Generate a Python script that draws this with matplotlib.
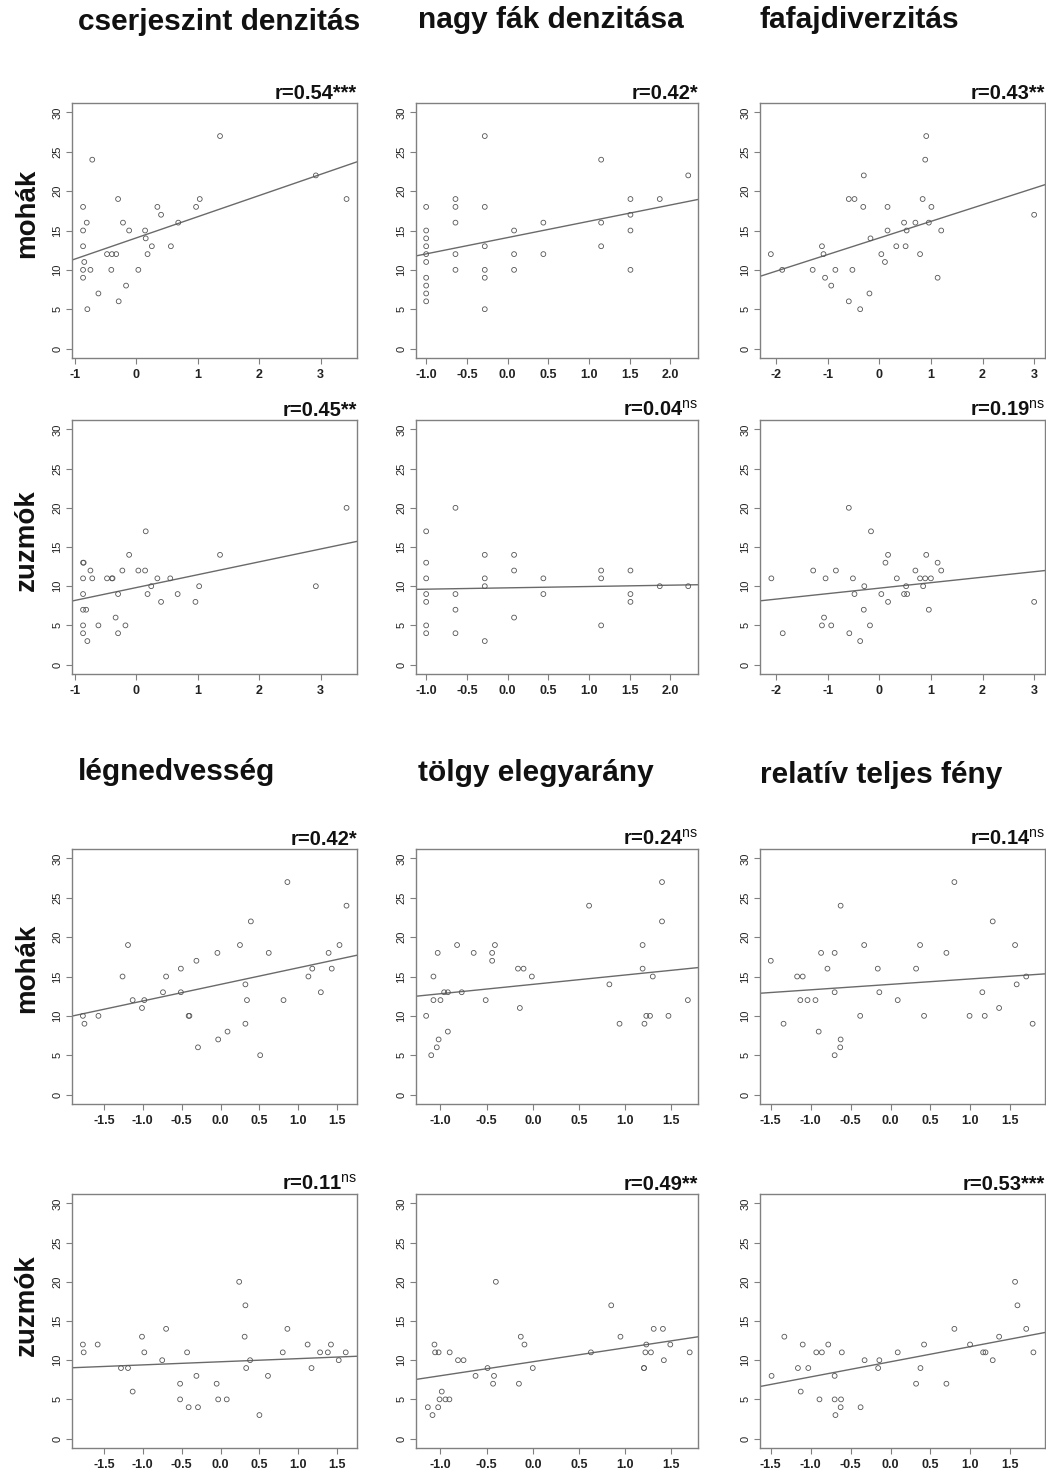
import numpy as np
import matplotlib
matplotlib.use("Agg")
import matplotlib.pyplot as plt

plt.rcParams['font.family'] = ['Liberation Sans', 'DejaVu Sans']
plt.rcParams['mathtext.fontset'] = 'custom'
plt.rcParams['mathtext.rm'] = 'Liberation Sans'

# ---------------- data ----------------
col_titles = ["cserjeszint denzitás", "nagy fák denzitása", "fafajdiverzitás",
              "légnedvesség", "tölgy elegyarány", "relatív teljes fény"]
row_labels = ["mohák", "zuzmók", "mohák", "zuzmók"]

cserje_moha_x = [-0.87, -0.87, -0.87, -0.85, -0.87, -0.87, -0.72, -0.81, -0.75, -0.80, -0.62, -0.48,
                 -0.40, -0.33, -0.41, -0.30, -0.29, -0.22, -0.17, -0.12, 0.03, 0.14, 0.15, 0.18,
                 0.25, 0.34, 0.40, 0.56, 0.68, 0.97, 1.03, 1.36, 2.92, 3.42]
cserje_moha_y = [18, 15, 13, 11, 10, 9, 24, 16, 10, 5, 7, 12, 12, 12, 10, 19, 6, 16, 8, 15, 10, 15,
                 14, 12, 13, 18, 17, 13, 16, 18, 19, 27, 22, 19]

cserje_zuzmo_x = [-0.86, -0.87, -0.87, -0.87, -0.87, -0.82, -0.87, -0.87, -0.80, -0.75, -0.72, -0.62,
                  -0.48, -0.40, -0.39, -0.34, -0.30, -0.30, -0.23, -0.18, -0.12, 0.03, 0.14, 0.15,
                  0.18, 0.24, 0.34, 0.40, 0.55, 0.67, 0.96, 1.02, 1.36, 2.92, 3.42]
cserje_zuzmo_y = [13, 13, 11, 9, 7, 7, 5, 4, 3, 12, 11, 5, 11, 11, 11, 6, 9, 4, 12, 5, 14, 12, 12, 17,
                  9, 10, 11, 8, 11, 9, 8, 10, 14, 10, 20]

nagyfa_moha_x = [-1.0, -1.0, -1.0, -1.0, -1.0, -1.0, -1.0, -1.0, -1.0, -1.0,
                 -0.64, -0.64, -0.64, -0.64, -0.64,
                 -0.28, -0.28, -0.28, -0.28, -0.28, -0.28,
                 0.08, 0.08, 0.08, 0.44, 0.44, 1.15, 1.15, 1.15,
                 1.51, 1.51, 1.51, 1.51, 1.87, 2.22]
nagyfa_moha_y = [18, 15, 14, 13, 12, 11, 9, 8, 7, 6,
                 19, 18, 16, 12, 10,
                 27, 18, 13, 10, 9, 5,
                 15, 12, 10, 16, 12, 24, 16, 13,
                 19, 17, 15, 10, 19, 22]

nagyfa_zuzmo_x = [-1.0, -1.0, -1.0, -1.0, -1.0, -1.0, -1.0,
                  -0.64, -0.64, -0.64, -0.64,
                  -0.28, -0.28, -0.28, -0.28,
                  0.08, 0.08, 0.08, 0.44, 0.44,
                  1.15, 1.15, 1.15, 1.51, 1.51, 1.51, 1.87, 2.22]
nagyfa_zuzmo_y = [17, 13, 11, 9, 8, 5, 4,
                  20, 9, 7, 4,
                  14, 11, 10, 3,
                  14, 12, 6, 11, 9,
                  12, 11, 5, 12, 9, 8, 10, 10]

fafaj_moha_x = [-2.10, -1.88, -1.29, -1.11, -1.08, -1.05, -0.93, -0.85, -0.59, -0.59, -0.52, -0.48,
                -0.37, -0.30, -0.31, -0.19, -0.17, 0.04, 0.11, 0.16, 0.16, 0.33, 0.48, 0.51, 0.53,
                0.70, 0.79, 0.84, 0.89, 0.91, 0.96, 1.01, 1.13, 1.20, 3.00]
fafaj_moha_y = [12, 10, 10, 13, 12, 9, 8, 10, 19, 6, 10, 19, 5, 22, 18, 7, 14, 12, 11, 18, 15, 13,
                16, 13, 15, 16, 12, 19, 24, 27, 16, 18, 9, 15, 17]

fafaj_zuzmo_x = [-2.09, -1.87, -1.28, -1.11, -1.07, -1.04, -0.93, -0.84, -0.59, -0.58, -0.51, -0.48,
                 -0.37, -0.30, -0.29, -0.18, -0.16, 0.04, 0.12, 0.17, 0.17, 0.34, 0.48, 0.52, 0.54,
                 0.70, 0.79, 0.85, 0.89, 0.91, 0.96, 1.00, 1.13, 1.20, 3.00]
fafaj_zuzmo_y = [11, 4, 12, 5, 6, 11, 5, 12, 20, 4, 11, 9, 3, 7, 10, 5, 17, 9, 13, 14, 8, 11, 9, 10,
                 9, 12, 11, 10, 11, 14, 7, 11, 13, 12, 8]

legned_moha_x = [-1.77, -1.75, -1.57, -1.26, -1.19, -1.13, -1.01, -0.98, -0.74, -0.70, -0.51, -0.51,
                 -0.41, -0.40, -0.31, -0.29, -0.04, -0.03, 0.09, 0.25, 0.32, 0.32, 0.34, 0.39, 0.51,
                 0.62, 0.81, 0.86, 1.13, 1.18, 1.29, 1.39, 1.43, 1.53, 1.62]
legned_moha_y = [10, 9, 10, 15, 19, 12, 11, 12, 13, 15, 16, 13, 10, 10, 17, 6, 18, 7, 8, 19, 14, 9,
                 12, 22, 5, 18, 12, 27, 15, 16, 13, 18, 16, 19, 24]

legned_zuzmo_x = [-1.77, -1.76, -1.58, -1.28, -1.19, -1.13, -1.01, -0.98, -0.75, -0.70, -0.52, -0.52,
                  -0.43, -0.41, -0.31, -0.29, -0.05, -0.03, 0.08, 0.24, 0.32, 0.31, 0.33, 0.38, 0.50,
                  0.61, 0.80, 0.86, 1.12, 1.17, 1.28, 1.38, 1.42, 1.52, 1.61]
legned_zuzmo_y = [12, 11, 12, 9, 9, 6, 13, 11, 10, 14, 7, 5, 11, 4, 8, 4, 7, 5, 5, 20, 17, 13, 9, 10,
                  3, 8, 11, 14, 12, 9, 11, 11, 12, 10, 11]

tolgy_moha_x = [-1.155, -1.10, -1.076, -1.076, -1.04, -1.03, -1.02, -1.00, -0.96, -0.92, -0.92, -0.82,
                -0.77, -0.64, -0.51, -0.44, -0.44, -0.41, -0.16, -0.14, -0.10, -0.01, 0.61, 0.83,
                0.94, 1.19, 1.19, 1.21, 1.23, 1.27, 1.30, 1.40, 1.40, 1.47, 1.68]
tolgy_moha_y = [10, 5, 15, 12, 6, 18, 7, 12, 13, 13, 8, 19, 13, 18, 12, 18, 17, 19, 16, 11, 16, 15,
                24, 14, 9, 19, 16, 9, 10, 10, 15, 27, 22, 10, 12]

tolgy_zuzmo_x = [-1.137, -1.086, -1.065, -1.058, -1.02, -1.025, -1.01, -0.986, -0.946, -0.903, -0.90,
                 -0.81, -0.75, -0.62, -0.49, -0.43, -0.42, -0.40, -0.15, -0.13, -0.09, 0.00, 0.63,
                 0.85, 0.95, 1.205, 1.205, 1.22, 1.23, 1.28, 1.31, 1.41, 1.42, 1.49, 1.70]
tolgy_zuzmo_y = [4, 3, 12, 11, 11, 4, 5, 6, 5, 5, 11, 10, 10, 8, 9, 7, 8, 20, 7, 13, 12, 9, 11, 17,
                 13, 9, 9, 11, 12, 11, 14, 14, 10, 12, 11]

feny_moha_x = [-1.50, -1.34, -1.17, -1.10, -1.13, -1.04, -0.94, -0.90, -0.87, -0.79, -0.70, -0.70,
               -0.70, -0.625, -0.625, -0.63, -0.38, -0.33, -0.16, -0.14, 0.09, 0.32, 0.37, 0.42,
               0.70, 0.80, 0.99, 1.15, 1.18, 1.28, 1.36, 1.56, 1.58, 1.70, 1.78]
feny_moha_y = [17, 9, 15, 15, 12, 12, 12, 8, 18, 16, 18, 13, 5, 24, 7, 6, 10, 19, 16, 13, 12, 16, 19,
               10, 18, 27, 10, 13, 10, 22, 11, 19, 14, 15, 9]

feny_zuzmo_x = [-1.49, -1.33, -1.16, -1.125, -1.10, -1.03, -0.93, -0.89, -0.86, -0.78, -0.70, -0.70,
                -0.69, -0.625, -0.62, -0.61, -0.375, -0.325, -0.155, -0.14, 0.09, 0.32, 0.375, 0.42,
                0.70, 0.80, 0.996, 1.16, 1.19, 1.28, 1.36, 1.56, 1.59, 1.70, 1.79]
feny_zuzmo_y = [8, 13, 9, 6, 12, 9, 11, 5, 11, 12, 8, 5, 3, 4, 5, 11, 4, 10, 9, 10, 11, 7, 9, 12, 7,
                14, 12, 11, 11, 10, 13, 20, 17, 14, 11]

# regression lines (intercept, slope), row-major order
line_intercepts = [14.07, 14.10, 14.05, 9.83, 9.79, 9.75, 14.00, 14.00, 14.00, 9.80, 9.80, 9.80]
line_slopes = [2.69, 2.07, 2.11, 1.64, 0.17, 0.70, 2.11, 1.19, 0.69, 0.40, 1.78, 1.93]

r_values = ["0.54", "0.42", "0.43", "0.45", "0.04", "0.19",
            "0.42", "0.24", "0.14", "0.11", "0.49", "0.53"]
r_signif = ["***", "*", "**", "**", "ns", "ns",
            "*", "ns", "ns", "ns", "**", "***"]

# x-axis settings per column group
xlims = [(-1.05, 3.59), (-1.125, 2.34), (-2.31, 3.21),
         (-1.91, 1.755), (-1.265, 1.79), (-1.635, 1.935)]
xticks = [[-1, 0, 1, 2, 3], [-1.0, -0.5, 0.0, 0.5, 1.0, 1.5, 2.0], [-2, -1, 0, 1, 2, 3],
          [-1.5, -1.0, -0.5, 0.0, 0.5, 1.0, 1.5], [-1.0, -0.5, 0.0, 0.5, 1.0, 1.5],
          [-1.5, -1.0, -0.5, 0.0, 0.5, 1.0, 1.5]]
xtick_fmt = ["{:.0f}", "{:.1f}", "{:.0f}", "{:.1f}", "{:.1f}", "{:.1f}"]
yticks = [0, 5, 10, 15, 20, 25, 30]

panels_x = [cserje_moha_x, nagyfa_moha_x, fafaj_moha_x,
            cserje_zuzmo_x, nagyfa_zuzmo_x, fafaj_zuzmo_x,
            legned_moha_x, tolgy_moha_x, feny_moha_x,
            legned_zuzmo_x, tolgy_zuzmo_x, feny_zuzmo_x]
panels_y = [cserje_moha_y, nagyfa_moha_y, fafaj_moha_y,
            cserje_zuzmo_y, nagyfa_zuzmo_y, fafaj_zuzmo_y,
            legned_moha_y, tolgy_moha_y, feny_moha_y,
            legned_zuzmo_y, tolgy_zuzmo_y, feny_zuzmo_y]

# ---------------- layout ----------------
W, H = 1046, 1470
fig = plt.figure(figsize=(W / 100, H / 100), dpi=100)

col_left = [72, 416, 760]
col_width = [285, 282, 285]
row_top = [103, 420, 849, 1194]
row_bot = [358, 674, 1104, 1448]

spine_col = '#808080'
for i in range(12):
    r, c = divmod(i, 3)
    grp = c + (3 if r >= 2 else 0)
    ax = fig.add_axes([col_left[c] / W, 1 - row_bot[r] / H,
                       col_width[c] / W, (row_bot[r] - row_top[r]) / H])
    ax.set_xlim(*xlims[grp])
    ax.set_ylim(-1.2, 31.2)
    ax.scatter(panels_x[i], panels_y[i], s=12, facecolors='none',
               edgecolors='#555555', linewidths=0.6, zorder=3)
    xs = np.array(xlims[grp])
    ax.plot(xs, line_intercepts[i] + line_slopes[i] * xs, color='#6a6a6a', lw=1.0, zorder=2)
    ax.set_yticks(yticks)
    ax.set_yticklabels([str(v) for v in yticks], rotation=90, va='center', fontsize=8,
                       color='#222222')
    ax.set_xticks(xticks[grp])
    ax.set_xticklabels([xtick_fmt[grp].format(v) for v in xticks[grp]], fontsize=9,
                       fontweight='bold', color='#222222')
    ax.tick_params(direction='out', length=4, width=0.8, color=spine_col, pad=3)
    ax.tick_params(axis='x', pad=4)
    for s in ax.spines.values():
        s.set_color(spine_col)
        s.set_linewidth(1.0)
    sig = r_signif[i]
    if sig == 'ns':
        label = 'r=' + r_values[i] + r'$^{\mathrm{ns}}$'
    else:
        label = 'r=' + r_values[i] + sig
    ax.text(1.0, 1.0, label, transform=ax.transAxes, ha='right', va='bottom',
            fontsize=14.5, fontweight='bold', color='#111111')

# column titles
title_pos = [(78, 22), (418, 20), (760, 20), (78, 772), (418, 773), (760, 775)]
for t, (x, y) in zip(col_titles, title_pos):
    fig.text(x / W, 1 - y / H, t, ha='left', va='center', fontsize=21.5, fontweight='bold',
             color='#111111')

# row labels
row_label_y = [213, 540, 968, 1305]
for t, y in zip(row_labels, row_label_y):
    fig.text(27 / W, 1 - y / H, t, ha='center', va='center', rotation=90, fontsize=20,
             fontweight='bold', color='#111111')

fig.savefig("out.png", dpi=100, facecolor='white')
